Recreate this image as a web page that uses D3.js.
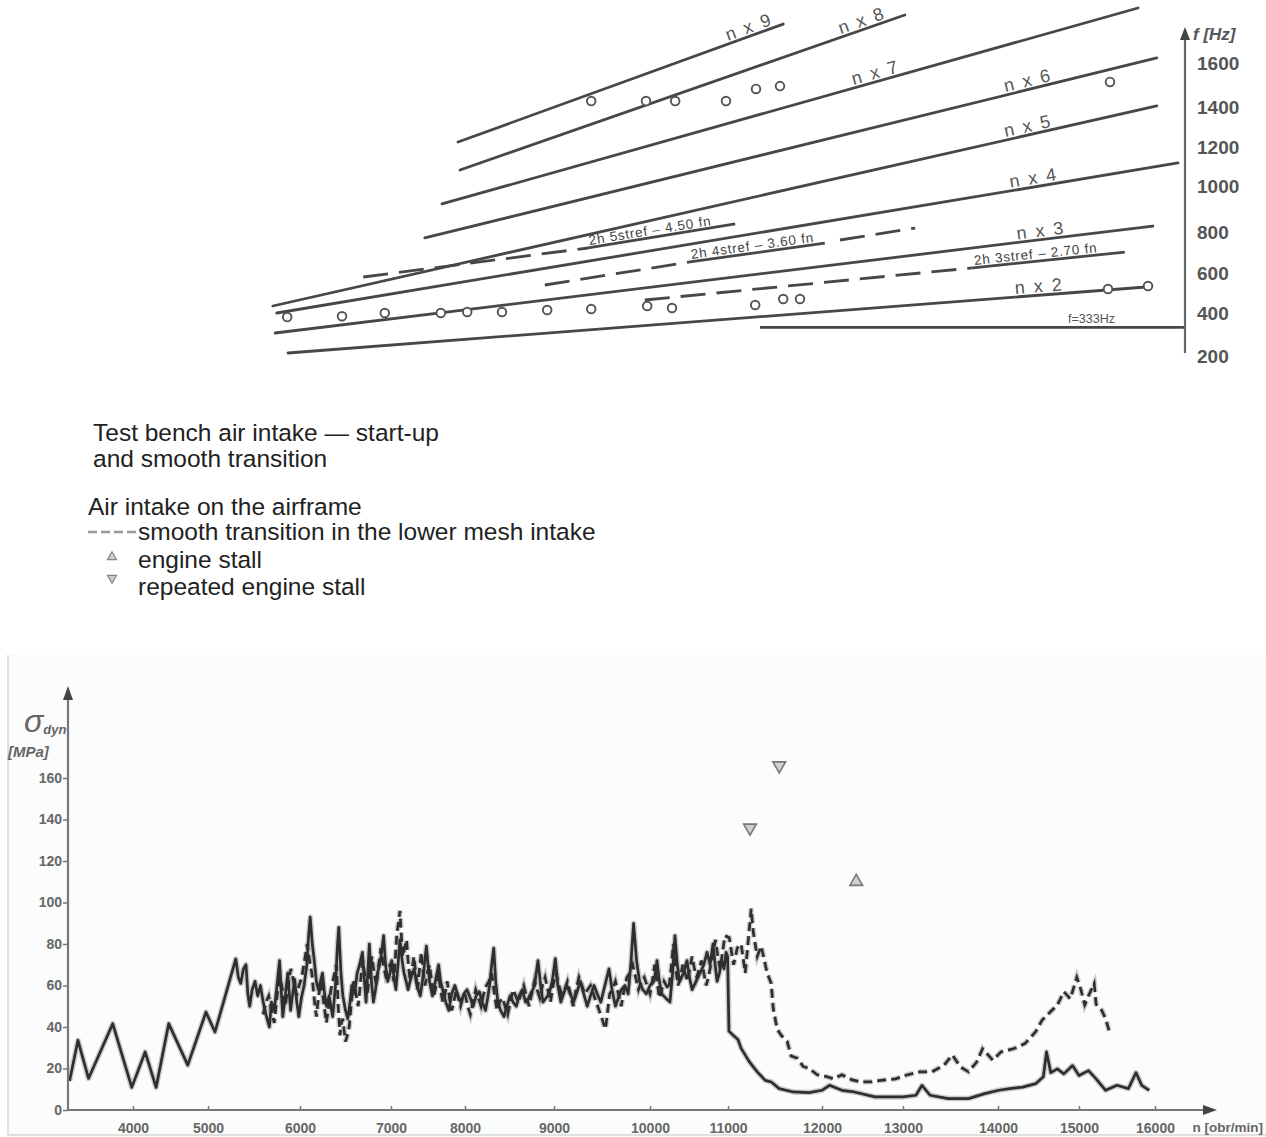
<!DOCTYPE html>
<html>
<head>
<meta charset="utf-8">
<title>Campbell diagram and dynamic blade stress</title>
<script src="https://cdn.jsdelivr.net/npm/d3@7"></script>
<style>
  html, body { margin: 0; padding: 0; background: #ffffff; }
  svg { display: block; }
  text { font-family: "Liberation Sans", Arial, Helvetica, sans-serif; }
</style>
</head>
<body>
<svg id="fig" width="1266" height="1137"></svg>
<script>
// ---------------- Campbell diagram data (rpm, Hz) ----------------
const ORDER_NAMES     = ["n x 2", "n x 3", "n x 4", "n x 5", "n x 6", "n x 7", "n x 8", "n x 9"];
const ORDER_RPM_START = [6100, 5940, 5960, 5910, 7810, 8025, 8250, 8225];
const ORDER_HZ_START  = [214, 307, 400, 435, 771, 922, 1082, 1225];
const ORDER_RPM_END   = [16825, 16910, 17225, 16960, 16960, 16725, 13810, 12290];
const ORDER_HZ_END    = [530, 826, 1118, 1405, 1623, 1850, 1818, 1777];

const FREQ_TICKS = [200, 400, 600, 800, 1000, 1200, 1400, 1600];
const ROTOR_FREQ_HZ = 333;
const ROTOR_FREQ_RPM = [12000, 17310];

// blade natural-frequency bands (dashed), with the text that sits on each
const STREF_NAMES = ["2h 5stref – 4.50 fn", "2h 4stref – 3.60 fn", "2h 3stref – 2.70 fn"];
const STREF_DASH  = [[[7040, 580], [9850, 722]], [[9310, 540], [11125, 654]], [[10560, 465], [14660, 625]]];
const STREF_TEXT  = [[[9850, 722], [11690, 835]], [[11125, 654], [12810, 746]], [[14660, 625], [16560, 702]]];
const STREF_TAIL  = [[], [[13000, 761], [13940, 817]], []];

// measured resonance points
const RES_RPM = [6090, 6775, 7310, 8010, 8340, 8775, 9340, 9890, 10590, 10900, 11940, 12290, 12500, 16350, 16850,
                 9890, 10575, 10940, 11575, 11950, 12250, 16375];
const RES_HZ  = [381, 385, 400, 400, 405, 405, 415, 420, 435, 425, 440, 470, 470, 520, 535,
                 1427, 1427, 1427, 1427, 1482, 1495, 1514];

// ---------------- dynamic stress data (rpm, MPa) ----------------
const RPM_TICKS = [4000, 5000, 6000, 7000, 8000, 9000, 10000, 11000, 12000, 13000, 14000, 15000, 16000];
const MPA_TICKS = [0, 20, 40, 60, 80, 100, 120, 140, 160];

// test bench air intake: start-up and smooth transition
const BENCH = [[3190,14],[3297,33.6],[3432,15.2],[3741,41.6],[3984,10.9],[4162,28],[4308,10.9],[4476,41.6],[4730,21.6],
  [4973,47.2],[5076,37.6],[5302,72.8],[5330,64],[5356,61],[5385,68],[5413,70],[5433,56],[5453,50],[5480,58],[5511,62],
  [5540,55],[5570,60],[5600,52],[5630,46],[5667,40],[5690,52],[5720,48],[5750,60],[5778,72],[5795,58],[5813,45],
  [5840,55],[5867,66],[5880,58],[5898,48],[5920,56],[5942,63],[5965,52],[5987,45],[6015,54],[6045,60],[6075,70],
  [6095,84],[6112,93],[6135,80],[6157,72],[6180,62],[6202,58],[6225,62],[6247,66],[6270,56],[6291,50],[6320,55],
  [6359,45],[6390,60],[6410,78],[6426,88],[6450,66],[6471,55],[6500,48],[6525,44],[6550,52],[6570,60],[6600,56],
  [6628,66],[6655,70],[6686,76],[6705,64],[6726,52],[6745,66],[6762,80],[6785,62],[6807,52],[6830,58],[6852,66],
  [6885,72],[6919,84],[6940,70],[6964,62],[6990,66],[7011,72],[7040,64],[7066,58],[7095,70],[7121,82],[7150,72],
  [7176,66],[7205,62],[7231,58],[7270,64],[7313,68],[7350,60],[7396,55],[7440,66],[7478,79],[7520,62],[7560,55],
  [7600,62],[7643,70],[7670,62],[7698,58],[7740,52],[7780,48],[7820,56],[7863,60],[7905,55],[7945,52],[7985,56],
  [8023,58],[8060,54],[8092,50],[8125,55],[8161,57],[8195,52],[8230,48],[8255,54],[8276,60],[8300,70],[8323,78],
  [8345,62],[8369,52],[8400,48],[8438,45],[8470,50],[8507,55],[8540,52],[8576,50],[8610,55],[8645,58],[8680,52],
  [8714,54],[8750,57],[8783,60],[8800,66],[8820,72],[8850,60],[8876,52],[8910,54],[8945,56],[8980,62],[9014,73],
  [9040,60],[9071,52],[9100,56],[9133,60],[9170,56],[9204,52],[9240,57],[9275,62],[9310,56],[9346,50],[9380,55],
  [9417,60],[9450,56],[9488,52],[9530,60],[9573,68],[9605,58],[9640,50],[9670,54],[9701,58],[9740,60],[9773,56],
  [9800,70],[9829,90],[9860,72],[9891,62],[9925,58],[9962,56],[10000,60],[10050,62],[10070,66],[10090,72],[10120,62],
  [10150,56],[10200,54],[10256,52],[10290,66],[10320,84],[10350,70],[10380,62],[10430,66],[10474,72],[10505,64],
  [10540,58],[10590,62],[10641,66],[10690,70],[10731,76],[10770,70],[10808,80],[10835,70],[10860,62],[10890,66],
  [10920,72],[10950,68],[10975,76],[10995,74],[11010,38],[11055,36],[11106,34],[11140,29.7],[11226,23.3],[11311,18.4],
  [11396,14.3],[11460,13.5],[11545,10.3],[11694,8.7],[11864,8.4],[12000,9.5],[12092,11.9],[12245,9.5],[12398,8.7],
  [12653,6.3],[13000,6.3],[13136,7.1],[13200,11.9],[13285,7.1],[13477,5.5],[13689,5.5],[13860,7.9],[14009,9.5],
  [14144,10.3],[14305,11],[14465,12.7],[14560,16],[14599,28],[14652,18],[14733,19.8],[14813,17.4],[14920,21.4],
  [15000,16.6],[15125,19],[15225,15],[15350,9.5],[15500,11.9],[15650,10.3],[15750,18],[15825,11.9],[15925,9.5]];

// air intake on the airframe: smooth transition in the lower mesh intake
const AIRFRAME = [[5600,46],[5630,52],[5660,55],[5690,48],[5720,42],[5750,55],[5780,64],[5810,58],[5840,50],[5870,60],
  [5900,68],[5930,62],[5960,55],[5990,60],[6020,64],[6050,72],[6080,80],[6105,72],[6130,66],[6155,54],[6180,45],
  [6205,55],[6230,62],[6260,52],[6290,42],[6315,50],[6340,58],[6370,64],[6400,70],[6420,50],[6440,36],[6455,42],
  [6470,44],[6485,38],[6500,33],[6520,36],[6540,40],[6565,52],[6590,62],[6615,56],[6640,50],[6665,62],[6690,72],
  [6715,64],[6740,56],[6765,66],[6790,74],[6815,66],[6840,60],[6865,70],[6890,78],[6915,70],[6940,65],[6965,68],
  [6990,70],[7015,66],[7040,62],[7060,74],[7080,85],[7100,90],[7121,96],[7140,84],[7160,74],[7185,78],[7210,82],
  [7235,70],[7260,62],[7285,68],[7310,74],[7335,66],[7360,58],[7385,68],[7410,76],[7435,66],[7460,60],[7490,66],
  [7520,70],[7550,62],[7580,55],[7610,60],[7640,66],[7670,58],[7700,52],[7730,56],[7760,62],[7790,54],[7820,48],
  [7850,52],[7880,58],[7910,54],[7940,50],[7970,54],[8000,56],[8030,50],[8060,46],[8090,52],[8120,58],[8150,54],
  [8180,50],[8210,56],[8240,60],[8270,62],[8300,66],[8330,56],[8360,48],[8390,52],[8420,54],[8450,50],[8480,46],
  [8510,52],[8540,58],[8570,55],[8600,52],[8630,56],[8660,60],[8690,55],[8720,50],[8750,56],[8780,62],[8810,58],
  [8840,54],[8870,60],[8900,64],[8930,58],[8960,52],[8990,60],[9020,66],[9050,60],[9080,56],[9110,58],[9140,62],
  [9170,56],[9200,50],[9230,58],[9260,64],[9290,60],[9320,56],[9350,58],[9380,60],[9410,56],[9440,52],[9470,48],
  [9500,44],[9520,41],[9536,39],[9560,48],[9580,56],[9610,58],[9640,62],[9670,56],[9700,50],[9730,58],[9760,64],
  [9790,66],[9820,70],[9850,64],[9880,58],[9910,62],[9940,64],[9970,60],[10000,56],[10030,62],[10060,70],[10090,62],
  [10120,54],[10150,58],[10180,62],[10210,60],[10240,58],[10270,68],[10300,80],[10330,68],[10360,60],[10390,64],
  [10420,70],[10450,66],[10480,62],[10510,68],[10540,74],[10570,68],[10600,64],[10630,68],[10660,72],[10690,66],
  [10720,60],[10750,64],[10780,70],[10810,76],[10840,82],[10870,74],[10900,68],[10930,76],[10960,84],[11013,83],
  [11060,70],[11098,78],[11140,80],[11183,66],[11247,97],[11268,86],[11311,74],[11353,79],[11417,66],[11460,61],
  [11481,49],[11523,39],[11566,36],[11630,33],[11672,26],[11736,25],[11800,21],[11864,20],[11949,17],[12066,16],
  [12143,15],[12245,17],[12372,14.5],[12474,13.6],[12602,13.6],[12755,14.4],[12908,15],[13051,17],[13179,18.4],
  [13306,18.4],[13434,21.7],[13519,26.5],[13604,20.8],[13689,18.4],[13774,23],[13838,29.5],[13945,24],[14037,28],
  [14198,29.6],[14332,32],[14465,37.7],[14545,43.3],[14626,46.5],[14733,50.6],[14813,57],[14893,53.6],[14973,64],
  [15025,58],[15075,50.6],[15125,55],[15200,61],[15225,51],[15300,48],[15350,44],[15400,37.7]];

const STALL_RPM = [12423];
const STALL_MPA = [110];
const REPEAT_STALL_RPM = [11234, 11545];
const REPEAT_STALL_MPA = [136, 166];

// =================================================================
const svg = d3.select("#fig");
const INK = "#474747";

// ---------- upper panel: Campbell diagram ----------
const xTop = d3.scaleLinear().domain([3000, 17500]).range([40, 1200]);
const fTop = d3.scaleLinear().domain(FREQ_TICKS).range([356, 313, 273, 232, 186, 147, 107, 63]);
const AXIS_X = 1185;

const upper = svg.append("g");
const P = (d) => [xTop(d[0]), fTop(d[1])];

// engine-order lines with their labels
const labelRpm = [15500, 15525, 15440, 15375, 15375, 13475, 13310, 11900];
ORDER_NAMES.forEach((name, i) => {
  const a = P([ORDER_RPM_START[i], ORDER_HZ_START[i]]);
  const b = P([ORDER_RPM_END[i], ORDER_HZ_END[i]]);
  upper.append("line").attr("x1", a[0]).attr("y1", a[1]).attr("x2", b[0]).attr("y2", b[1])
    .attr("stroke", INK).attr("stroke-width", 2.8).attr("stroke-linecap", "round");
  const lx = xTop(labelRpm[i]);
  const t = (lx - a[0]) / (b[0] - a[0]);
  const ly = a[1] + t * (b[1] - a[1]);
  const ang = Math.atan2(b[1] - a[1], b[0] - a[0]) * 180 / Math.PI;
  upper.append("text").attr("transform", `translate(${lx},${ly}) rotate(${ang})`)
    .attr("y", -3).attr("text-anchor", "middle")
    .attr("font-size", 18).attr("letter-spacing", 2).attr("fill", "#555").text(name);
});

// rotor frequency line
upper.append("line")
  .attr("x1", xTop(ROTOR_FREQ_RPM[0])).attr("x2", xTop(ROTOR_FREQ_RPM[1]))
  .attr("y1", fTop(ROTOR_FREQ_HZ)).attr("y2", fTop(ROTOR_FREQ_HZ))
  .attr("stroke", INK).attr("stroke-width", 2.8);
upper.append("text").attr("x", xTop(15850)).attr("y", fTop(ROTOR_FREQ_HZ) - 4)
  .attr("font-size", 12.5).attr("fill", "#555").text("f=" + ROTOR_FREQ_HZ + "Hz");

// blade frequency bands
STREF_NAMES.forEach((name, i) => {
  const seg = (pts, dashed) => {
    if (!pts.length) return;
    const a = P(pts[0]), b = P(pts[1]);
    upper.append("line").attr("x1", a[0]).attr("y1", a[1]).attr("x2", b[0]).attr("y2", b[1])
      .attr("stroke", INK).attr("stroke-width", 2.8)
      .attr("stroke-dasharray", dashed ? "25,11" : null);
  };
  seg(STREF_DASH[i], true);
  seg(STREF_TEXT[i], false);
  seg(STREF_TAIL[i], true);
  const a = P(STREF_TEXT[i][0]), b = P(STREF_TEXT[i][1]);
  const ang = Math.atan2(b[1] - a[1], b[0] - a[0]) * 180 / Math.PI;
  upper.append("text").attr("transform", `translate(${a[0] + 2},${a[1]}) rotate(${ang})`)
    .attr("y", -3).attr("font-size", 13.5).attr("letter-spacing", 0.8).attr("fill", "#444").text(name);
});

// resonance points
upper.selectAll("circle.res").data(RES_RPM.map((r, i) => [r, RES_HZ[i]])).join("circle")
  .attr("cx", d => xTop(d[0])).attr("cy", d => fTop(d[1])).attr("r", 4.3)
  .attr("fill", "#fff").attr("stroke", "#555").attr("stroke-width", 1.9);

// frequency axis
upper.append("line").attr("x1", AXIS_X).attr("x2", AXIS_X).attr("y1", 36).attr("y2", fTop(200) - 3)
  .attr("stroke", "#666").attr("stroke-width", 2.2);
upper.append("path").attr("d", `M${AXIS_X - 5},40 L${AXIS_X},27 L${AXIS_X + 5},40 Z`).attr("fill", "#444");
upper.append("text").attr("x", AXIS_X + 8).attr("y", 40).attr("font-size", 17)
  .attr("font-weight", "bold").attr("font-style", "italic").attr("fill", "#555").text("f [Hz]");
const fAxis = upper.append("g").attr("transform", `translate(${AXIS_X},0)`)
  .call(d3.axisRight(fTop).tickValues(FREQ_TICKS).tickFormat(d3.format("d")).tickSize(0).tickPadding(12));
fAxis.select(".domain").remove();
fAxis.selectAll("text").attr("font-size", 19).attr("font-weight", "bold").attr("fill", "#555")
  .attr("font-family", "'Liberation Sans', Arial, sans-serif");

// ---------- legend ----------
const lg = svg.append("g").attr("font-size", 24.5).attr("fill", "#222");
lg.append("text").attr("x", 93).attr("y", 441).text("Test bench air intake — start-up");
lg.append("text").attr("x", 93).attr("y", 467).text("and smooth transition");
lg.append("text").attr("x", 88).attr("y", 515).text("Air intake on the airframe");
lg.append("line").attr("x1", 88).attr("x2", 136).attr("y1", 532).attr("y2", 532)
  .attr("stroke", "#999").attr("stroke-width", 2.5).attr("stroke-dasharray", "9,4");
lg.append("text").attr("x", 138).attr("y", 540).text("smooth transition in the lower mesh intake");
lg.append("path").attr("d", d3.symbol(d3.symbolTriangle, 36)()).attr("transform", "translate(112,557)")
  .attr("fill", "#ccc").attr("stroke", "#888").attr("stroke-width", 1.2);
lg.append("text").attr("x", 138).attr("y", 568).text("engine stall");
lg.append("path").attr("d", d3.symbol(d3.symbolTriangle, 36)()).attr("transform", "translate(112,578) rotate(180)")
  .attr("fill", "#ccc").attr("stroke", "#888").attr("stroke-width", 1.2);
lg.append("text").attr("x", 138).attr("y", 595).text("repeated engine stall");

// ---------- lower panel: dynamic stress ----------
svg.append("rect").attr("x", 8).attr("y", 655).attr("width", 1258).attr("height", 480)
  .attr("fill", "#fbfcfc").attr("stroke", "none");
svg.append("path").attr("d", "M8,655 V1135 H1266").attr("fill", "none").attr("stroke", "#d6d6d6").attr("stroke-width", 1.5);

const xb = d3.scaleLinear()
  .domain([3170, 4000, 5000, 6000, 7000, 8000, 9000, 10000, 11000, 12000, 13000, 14000, 15000, 16000, 17000])
  .range([68, 133, 208, 300, 391, 465, 554, 650, 728, 822, 903, 998, 1079, 1155, 1233]);
const yb = d3.scaleLinear().domain([0, 160]).range([1110, 778]);

const bot = svg.append("g");
const line = d3.line().x(d => xb(d[0])).y(d => yb(d[1])).curve(d3.curveLinear);

// soft halo under each trace, then the trace itself
bot.append("path").datum(AIRFRAME).attr("d", line).attr("fill", "none")
  .attr("stroke", "#999").attr("stroke-width", 5.5).attr("stroke-dasharray", "9,5").attr("opacity", 0.5);
bot.append("path").datum(BENCH).attr("d", line).attr("fill", "none")
  .attr("stroke", "#999").attr("stroke-width", 5.5).attr("opacity", 0.5).attr("stroke-linejoin", "round");
bot.append("path").datum(AIRFRAME).attr("d", line).attr("fill", "none")
  .attr("stroke", "#2e2e2e").attr("stroke-width", 2.7).attr("stroke-dasharray", "9,5");
bot.append("path").datum(BENCH).attr("d", line).attr("fill", "none")
  .attr("stroke", "#2e2e2e").attr("stroke-width", 2.7).attr("stroke-linejoin", "round");

// stall markers
bot.selectAll("path.stall").data(STALL_RPM.map((r, i) => [r, STALL_MPA[i]])).join("path")
  .attr("d", d3.symbol(d3.symbolTriangle, 70)())
  .attr("transform", d => `translate(${xb(d[0])},${yb(d[1])})`)
  .attr("fill", "#d0d0d0").attr("stroke", "#777").attr("stroke-width", 1.6);
bot.selectAll("path.rstall").data(REPEAT_STALL_RPM.map((r, i) => [r, REPEAT_STALL_MPA[i]])).join("path")
  .attr("d", d3.symbol(d3.symbolTriangle, 70)())
  .attr("transform", d => `translate(${xb(d[0])},${yb(d[1])}) rotate(180)`)
  .attr("fill", "#d0d0d0").attr("stroke", "#777").attr("stroke-width", 1.6);

// axes
const AX = "#777";
bot.append("line").attr("x1", 68).attr("x2", 68).attr("y1", 1110).attr("y2", 696).attr("stroke", AX).attr("stroke-width", 2.2);
bot.append("path").attr("d", "M63,700 L68,686 L73,700 Z").attr("fill", "#444");
bot.append("line").attr("x1", 68).attr("x2", 1205).attr("y1", 1110).attr("y2", 1110).attr("stroke", AX).attr("stroke-width", 2.2);
bot.append("path").attr("d", "M1203,1105 L1217,1110 L1203,1115 Z").attr("fill", "#444");

const xAxis = bot.append("g").attr("transform", "translate(0,1110)")
  .call(d3.axisBottom(xb).tickValues(RPM_TICKS).tickFormat(d3.format("d")).tickSizeInner(-4).tickSizeOuter(0).tickPadding(13));
const yAxis = bot.append("g").attr("transform", "translate(68,0)")
  .call(d3.axisLeft(yb).tickValues(MPA_TICKS).tickSizeInner(5).tickSizeOuter(0).tickPadding(1));
[xAxis, yAxis].forEach(g => {
  g.select(".domain").remove();
  g.selectAll(".tick line").attr("stroke", AX).attr("stroke-width", 1.5);
  g.selectAll("text").attr("font-size", 14).attr("font-weight", "bold").attr("fill", "#666")
    .attr("font-family", "'Liberation Sans', Arial, sans-serif");
});
bot.append("text").attr("x", 1263).attr("y", 1132).attr("text-anchor", "end").attr("font-size", 13.5)
  .attr("font-weight", "bold").attr("fill", "#666").text("n [obr/min]");

const yl = bot.append("text").attr("x", 24).attr("y", 732).attr("fill", "#666").attr("font-style", "italic");
yl.append("tspan").attr("font-size", 32).text("σ");
yl.append("tspan").attr("font-size", 13).attr("font-weight", "bold").attr("dy", 2).text("dyn");
bot.append("text").attr("x", 8).attr("y", 757).attr("font-size", 15).attr("font-weight", "bold")
  .attr("font-style", "italic").attr("fill", "#666").text("[MPa]");
</script>
</body>
</html>
